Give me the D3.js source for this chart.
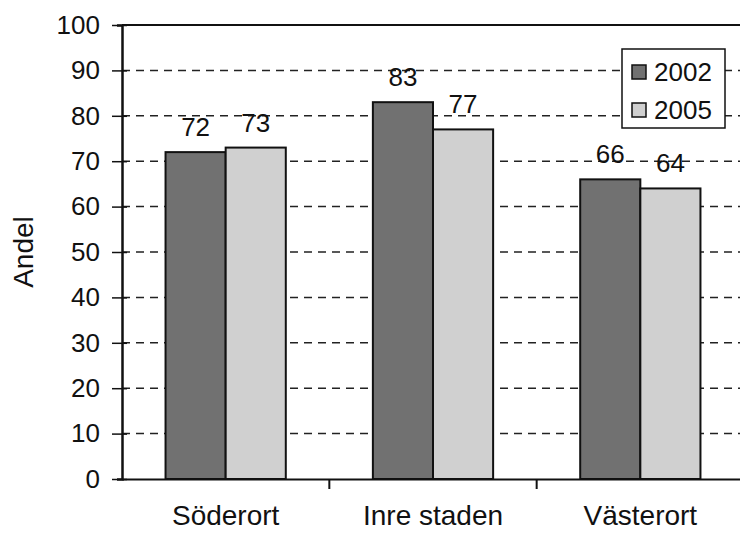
<!DOCTYPE html>
<html>
<head>
<meta charset="utf-8">
<script src="https://cdn.jsdelivr.net/npm/d3@7"></script>
<style>
  body { margin: 0; background: #fff; }
  text { font-family: "Liberation Sans", Arial, sans-serif; fill: #111; }
</style>
</head>
<body>
<svg id="chart"></svg>
<script>
// values
const categories = ["Söderort", "Inre staden", "Västerort"];
const years = ["2002", "2005"];
const values2002 = [72, 83, 66];
const values2005 = [73, 77, 64];
const yTicks = [0, 10, 20, 30, 40, 50, 60, 70, 80, 90, 100];
const yLabel = "Andel";

const colors = { "2002": "#717171", "2005": "#d0d0d0" };

const svgWidth = 740, svgHeight = 534;
const margin = { top: 25, right: -4, bottom: 55, left: 122 };
const width = svgWidth - margin.left - margin.right,
      height = svgHeight - margin.top - margin.bottom;

const data = categories.map((c, i) => ({
    category: c,
    values: [
        { year: "2002", value: values2002[i] },
        { year: "2005", value: values2005[i] }
    ]
}));

const svg = d3.select("#chart")
    .attr("width", svgWidth)
    .attr("height", svgHeight);

const g = svg.append("g")
    .attr("transform", `translate(${margin.left},${margin.top})`);

const x0 = d3.scaleBand()
    .domain(categories)
    .range([0, width])
    .paddingInner(0.42)
    .paddingOuter(0.21);

const x1 = d3.scaleBand()
    .domain(years)
    .range([0, x0.bandwidth()]);

const y = d3.scaleLinear()
    .domain([0, 100])
    .range([height, 0]);

// dashed gridlines
g.selectAll("line.grid")
    .data(yTicks.filter(t => t > 0 && t < 100))
    .join("line")
    .attr("class", "grid")
    .attr("x1", 0)
    .attr("x2", width)
    .attr("y1", d => y(d))
    .attr("y2", d => y(d))
    .attr("stroke", "#222")
    .attr("stroke-width", 1.5)
    .attr("stroke-dasharray", "8,6");

// top frame line
g.append("line")
    .attr("x1", 0).attr("x2", width)
    .attr("y1", 0).attr("y2", 0)
    .attr("stroke", "#111")
    .attr("stroke-width", 2);

// bars
const groups = g.selectAll("g.cat")
    .data(data)
    .join("g")
    .attr("class", "cat")
    .attr("transform", d => `translate(${x0(d.category)},0)`);

groups.selectAll("rect")
    .data(d => d.values)
    .join("rect")
    .attr("x", d => x1(d.year))
    .attr("y", d => y(d.value))
    .attr("width", x1.bandwidth())
    .attr("height", d => height - y(d.value))
    .attr("fill", d => colors[d.year])
    .attr("stroke", "#111")
    .attr("stroke-width", 2);

groups.selectAll("text.val")
    .data(d => d.values)
    .join("text")
    .attr("class", "val")
    .attr("x", d => x1(d.year) + x1.bandwidth() / 2)
    .attr("y", d => y(d.value) - 16)
    .attr("text-anchor", "middle")
    .style("font-size", "26px")
    .text(d => d.value);

// y axis
const yAxis = g.append("g")
    .call(d3.axisLeft(y).tickValues(yTicks).tickSize(5).tickPadding(16));
yAxis.select(".domain").attr("stroke", "#111").attr("stroke-width", 2.5);
yAxis.selectAll(".tick line")
    .attr("x1", -10).attr("x2", 5)
    .attr("stroke", "#111").attr("stroke-width", 1.5);
yAxis.selectAll("text").style("font-size", "26px").attr("x", -22);

// x axis
const xAxis = g.append("g")
    .attr("transform", `translate(0,${height})`)
    .call(d3.axisBottom(x0).tickSize(0).tickPadding(26));
xAxis.select(".domain").attr("stroke", "#111").attr("stroke-width", 2);
xAxis.selectAll("text").style("font-size", "28px");

// separators between categories
xAxis.selectAll("line.sep")
    .data(categories.slice(1))
    .join("line")
    .attr("class", "sep")
    .attr("x1", d => x0(d) - x0.step() * x0.paddingInner() / 2)
    .attr("x2", d => x0(d) - x0.step() * x0.paddingInner() / 2)
    .attr("y1", 0)
    .attr("y2", 10)
    .attr("stroke", "#111")
    .attr("stroke-width", 2);

// axis title
svg.append("text")
    .attr("transform", `translate(33,${margin.top + y(50)}) rotate(-90)`)
    .attr("text-anchor", "middle")
    .style("font-size", "28px")
    .text(yLabel);

// legend
const legend = svg.append("g").attr("transform", "translate(622,49)");
legend.append("rect")
    .attr("width", 103).attr("height", 79)
    .attr("fill", "#fff")
    .attr("stroke", "#111")
    .attr("stroke-width", 1.5);

const items = legend.selectAll("g.item")
    .data(years)
    .join("g")
    .attr("class", "item")
    .attr("transform", (d, i) => `translate(10,${23 + i * 38})`);

items.append("rect")
    .attr("x", 0).attr("y", -7)
    .attr("width", 14).attr("height", 14)
    .attr("fill", d => colors[d])
    .attr("stroke", "#111")
    .attr("stroke-width", 1.5);

items.append("text")
    .attr("x", 22)
    .attr("y", 9)
    .style("font-size", "26px")
    .text(d => d);
</script>
</body>
</html>
